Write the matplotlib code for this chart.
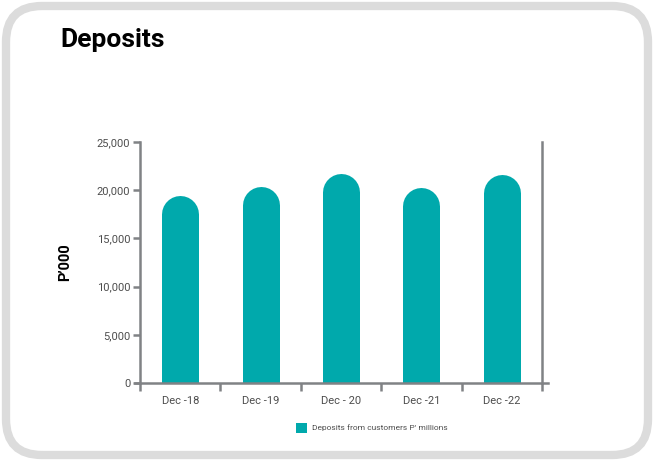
import numpy as np
import matplotlib
matplotlib.use("Agg")
from matplotlib import pyplot as plt
from matplotlib.patches import FancyBboxPatch, Rectangle

categories = ["Dec -18", "Dec -19", "Dec - 20", "Dec -21", "Dec -22"]
deposits = [19500, 20400, 21700, 20300, 21600]
y_ticks = [0, 5000, 10000, 15000, 20000, 25000]
y_labels = ["0", "5,000", "10,000", "15,000", "20,000", "25,000"]

TEAL = "#00a9ac"
AXIS_GREY = "#808285"
TEXT_GREY = "#4d4d4d"

plt.rcParams["font.family"] = ["Roboto", "DejaVu Sans"]

W, H = 654, 461
fig = plt.figure(figsize=(W / 100, H / 100), dpi=100)

# rounded card border
card = FancyBboxPatch((6 / W, 6 / H), (W - 12) / W, (H - 12) / H,
                      boxstyle="round,pad=0,rounding_size=0.055",
                      transform=fig.transFigure, facecolor="white",
                      edgecolor="#dcdcdc", linewidth=6, mutation_aspect=W / H,
                      zorder=-1)
fig.patches.append(card)

fig.text(60 / W, 1 - 40 / H, "Deposits", fontsize=19, fontweight="bold",
         color="black", va="center", ha="left")

ax = fig.add_axes([140 / W, 1 - 383 / H, 402 / W, 241 / H])
ax.set_xlim(-0.5, len(categories) - 0.5)
ax.set_ylim(0, 25000)
ax.patch.set_alpha(0)

# bars with rounded tops: thick lines with round caps, clipped at the axis
bar_px = 37
fig.canvas.draw()
px_per_unit = ax.transData.transform((0, 1000))[1] - ax.transData.transform((0, 0))[1]
radius = (bar_px / 2) / px_per_unit * 1000
x = np.arange(len(categories))
for xi, v in zip(x, deposits):
    ax.plot([xi, xi], [-radius, v - radius], color=TEAL, linewidth=bar_px * 0.72,
            solid_capstyle="round", zorder=2)

ax.spines["top"].set_visible(False)
ax.spines["bottom"].set_visible(False)
for side in ["left", "right"]:
    ax.spines[side].set_color(AXIS_GREY)
    ax.spines[side].set_linewidth(1.8)
ax.plot([-0.012, 1.015], [0, 0], transform=ax.transAxes, color=AXIS_GREY,
        linewidth=1.8, clip_on=False, zorder=3)

ax.set_yticks(y_ticks)
ax.set_yticklabels(y_labels)
ax.tick_params(axis="y", direction="out", length=5, width=1.8, color=AXIS_GREY,
               labelsize=8, labelcolor=TEXT_GREY, pad=2, right=False)

ax.set_xticks(x)
ax.set_xticklabels(categories)
ax.set_xticks(np.arange(len(categories) + 1) - 0.5, minor=True)
ax.tick_params(axis="x", which="major", length=0, labelsize=8,
               labelcolor=TEXT_GREY, pad=9)
ax.tick_params(axis="x", which="minor", direction="out", length=6, width=1.8,
               color=AXIS_GREY)

ax.set_ylabel("P\u2019000", fontsize=10.5, fontweight="bold", color="black",
              labelpad=18)

# legend
fig.patches.append(Rectangle((296 / W, 1 - 433 / H), 11 / W, 10 / H,
                             transform=fig.transFigure, facecolor=TEAL,
                             edgecolor="none"))
fig.text(312 / W, 1 - 427.5 / H, "Deposits from customers P' millions",
         fontsize=6, color=TEXT_GREY, va="center", ha="left")

fig.savefig("out.png", dpi=100)
